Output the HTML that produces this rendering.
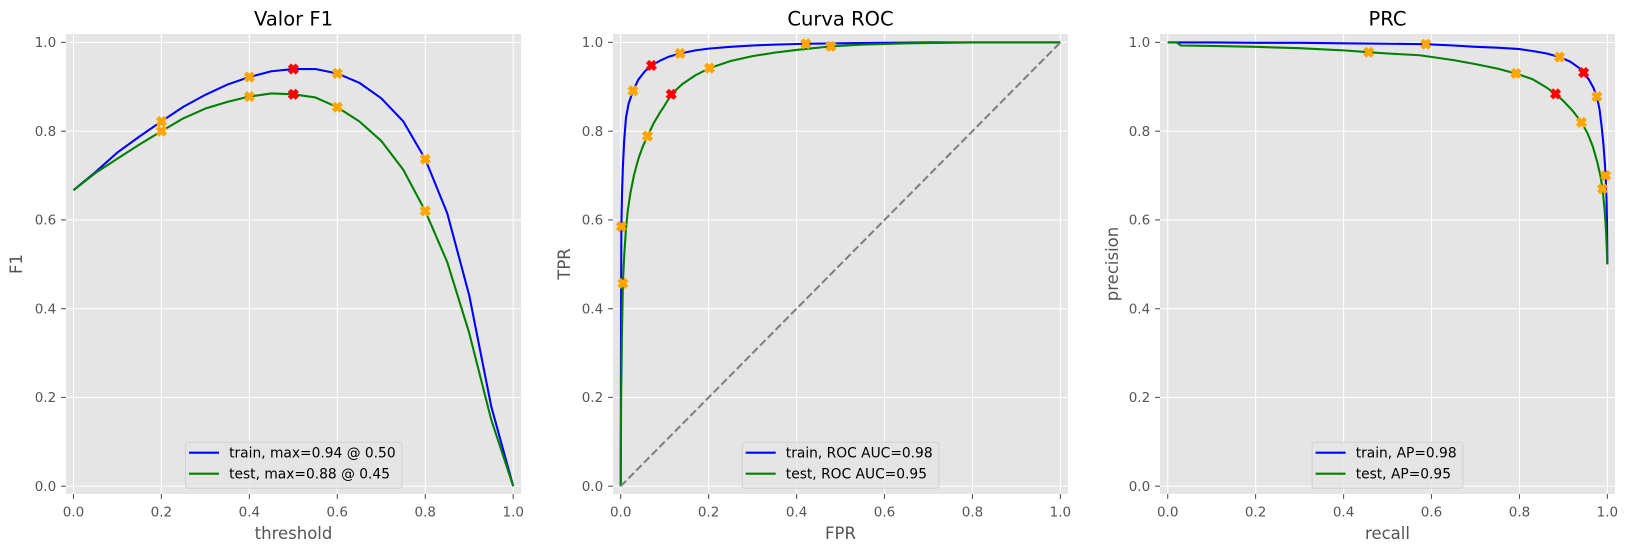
<!DOCTYPE html>
<html><head><meta charset="utf-8"><style>
html,body{margin:0;padding:0;background:#fff;}
svg{display:block;font-family:"DejaVu Sans","Liberation Sans",sans-serif;}
.tk{font-size:13.5px;fill:#555555;}
.lb{font-size:16.5px;fill:#555555;}
.tt{font-size:19.5px;fill:#000;}
.lg{font-size:13.8px;fill:#000;}
.g{stroke:#fff;stroke-width:1.1;}
.tm{stroke:#555555;stroke-width:1.1;}
.ln{fill:none;stroke-width:2.08;vector-effect:non-scaling-stroke;stroke-linejoin:round;}
</style></head><body>
<svg width="1627" height="552" viewBox="0 0 1627 552" xmlns="http://www.w3.org/2000/svg">
<defs>
<polygon id="mx" points="-2.3,-4.6 0,-2.3 2.3,-4.6 4.6,-2.3 2.3,0 4.6,2.3 2.3,4.6 0,2.3 -2.3,4.6 -4.6,2.3 -2.3,0 -4.6,-2.3" stroke-width="1.39"/>
<clipPath id="c1"><rect x="66" y="34" width="455" height="460"/></clipPath>
<clipPath id="c2"><rect x="613" y="34" width="455" height="460"/></clipPath>
<clipPath id="c3"><rect x="1160" y="34" width="455" height="460"/></clipPath>
</defs>
<rect width="1627" height="552" fill="#fff"/>

<!-- ========== AXES 1 ========== -->
<rect x="66" y="34" width="455" height="460" fill="#E5E5E5"/>
<g class="g">
<line x1="73.5" y1="34" x2="73.5" y2="494"/><line x1="161.4" y1="34" x2="161.4" y2="494"/><line x1="249.4" y1="34" x2="249.4" y2="494"/><line x1="337.3" y1="34" x2="337.3" y2="494"/><line x1="425.3" y1="34" x2="425.3" y2="494"/><line x1="513.2" y1="34" x2="513.2" y2="494"/>
<line x1="66" y1="486.2" x2="521" y2="486.2"/><line x1="66" y1="397.4" x2="521" y2="397.4"/><line x1="66" y1="308.7" x2="521" y2="308.7"/><line x1="66" y1="219.9" x2="521" y2="219.9"/><line x1="66" y1="131.2" x2="521" y2="131.2"/><line x1="66" y1="42.4" x2="521" y2="42.4"/>
</g>
<g class="tm">
<line x1="73.5" y1="494" x2="73.5" y2="498.9"/><line x1="161.4" y1="494" x2="161.4" y2="498.9"/><line x1="249.4" y1="494" x2="249.4" y2="498.9"/><line x1="337.3" y1="494" x2="337.3" y2="498.9"/><line x1="425.3" y1="494" x2="425.3" y2="498.9"/><line x1="513.2" y1="494" x2="513.2" y2="498.9"/>
<line x1="61.1" y1="486.2" x2="66" y2="486.2"/><line x1="61.1" y1="397.4" x2="66" y2="397.4"/><line x1="61.1" y1="308.7" x2="66" y2="308.7"/><line x1="61.1" y1="219.9" x2="66" y2="219.9"/><line x1="61.1" y1="131.2" x2="66" y2="131.2"/><line x1="61.1" y1="42.4" x2="66" y2="42.4"/>
</g>
<g class="tk" text-anchor="middle">
<text x="73.5" y="516.5">0.0</text><text x="161.4" y="516.5">0.2</text><text x="249.4" y="516.5">0.4</text><text x="337.3" y="516.5">0.6</text><text x="425.3" y="516.5">0.8</text><text x="513.2" y="516.5">1.0</text>
</g>
<g class="tk" text-anchor="end">
<text x="56.2" y="491">0.0</text><text x="56.2" y="402.2">0.2</text><text x="56.2" y="313.5">0.4</text><text x="56.2" y="224.7">0.6</text><text x="56.2" y="136">0.8</text><text x="56.2" y="47.2">1.0</text>
</g>
<text class="tt" x="293.5" y="25.5" text-anchor="middle">Valor F1</text>
<text class="lb" x="293.5" y="539" text-anchor="middle">threshold</text>
<text class="lb" transform="translate(22,264) rotate(-90)" text-anchor="middle">F1</text>
<g clip-path="url(#c1)">
<g transform="translate(73.5 486.2) scale(439.7 -443.8)">
<polyline class="ln" stroke="#0000FF" points="0,0.667 0.05,0.708 0.1,0.752 0.15,0.788 0.2,0.822 0.25,0.855 0.3,0.882 0.35,0.905 0.4,0.922 0.45,0.935 0.5,0.94 0.55,0.94 0.6,0.93 0.65,0.909 0.7,0.874 0.75,0.822 0.8,0.737 0.85,0.615 0.9,0.43 0.95,0.18 1,0"/>
<g fill="#FFA500" stroke="#FFA500">
<use href="#mx" transform="translate(0.2 0.822) scale(0.0022743 -0.0022533)"/>
<use href="#mx" transform="translate(0.4 0.922) scale(0.0022743 -0.0022533)"/>
<use href="#mx" transform="translate(0.6 0.93) scale(0.0022743 -0.0022533)"/>
<use href="#mx" transform="translate(0.8 0.737) scale(0.0022743 -0.0022533)"/>
</g>
<g fill="#FF0000" stroke="#FF0000"><use href="#mx" transform="translate(0.5 0.94) scale(0.0022743 -0.0022533)"/></g>
<polyline class="ln" stroke="#008000" points="0,0.667 0.05,0.706 0.1,0.738 0.15,0.77 0.2,0.80 0.25,0.829 0.3,0.851 0.35,0.866 0.4,0.878 0.45,0.885 0.5,0.883 0.55,0.876 0.6,0.854 0.65,0.822 0.7,0.778 0.75,0.713 0.8,0.62 0.85,0.505 0.9,0.345 0.95,0.15 1,0"/>
<g fill="#FFA500" stroke="#FFA500">
<use href="#mx" transform="translate(0.2 0.80) scale(0.0022743 -0.0022533)"/>
<use href="#mx" transform="translate(0.4 0.878) scale(0.0022743 -0.0022533)"/>
<use href="#mx" transform="translate(0.6 0.854) scale(0.0022743 -0.0022533)"/>
<use href="#mx" transform="translate(0.8 0.62) scale(0.0022743 -0.0022533)"/>
</g>
<g fill="#FF0000" stroke="#FF0000"><use href="#mx" transform="translate(0.5 0.883) scale(0.0022743 -0.0022533)"/></g>
</g>
</g>
<g>
<rect x="185.5" y="442.3" width="216.6" height="46" rx="2.8" fill="#E5E5E5" fill-opacity="0.8" stroke="#CCCCCC" stroke-opacity="0.8" stroke-width="1"/>
<line x1="189" y1="452.7" x2="219" y2="452.7" stroke="#0000FF" stroke-width="2.08"/>
<line x1="189" y1="473.7" x2="219" y2="473.7" stroke="#008000" stroke-width="2.08"/>
<text class="lg" x="229.1" y="457.6">train, max=0.94 @ 0.50</text>
<text class="lg" x="229.1" y="478.6">test, max=0.88 @ 0.45</text>
</g>

<!-- ========== AXES 2 ========== -->
<rect x="613" y="34" width="455" height="460" fill="#E5E5E5"/>
<g class="g">
<line x1="620.7" y1="34" x2="620.7" y2="494"/><line x1="708.6" y1="34" x2="708.6" y2="494"/><line x1="796.6" y1="34" x2="796.6" y2="494"/><line x1="884.5" y1="34" x2="884.5" y2="494"/><line x1="972.5" y1="34" x2="972.5" y2="494"/><line x1="1060.4" y1="34" x2="1060.4" y2="494"/>
<line x1="613" y1="486.2" x2="1068" y2="486.2"/><line x1="613" y1="397.4" x2="1068" y2="397.4"/><line x1="613" y1="308.7" x2="1068" y2="308.7"/><line x1="613" y1="219.9" x2="1068" y2="219.9"/><line x1="613" y1="131.2" x2="1068" y2="131.2"/><line x1="613" y1="42.4" x2="1068" y2="42.4"/>
</g>
<g class="tm">
<line x1="620.7" y1="494" x2="620.7" y2="498.9"/><line x1="708.6" y1="494" x2="708.6" y2="498.9"/><line x1="796.6" y1="494" x2="796.6" y2="498.9"/><line x1="884.5" y1="494" x2="884.5" y2="498.9"/><line x1="972.5" y1="494" x2="972.5" y2="498.9"/><line x1="1060.4" y1="494" x2="1060.4" y2="498.9"/>
<line x1="608.1" y1="486.2" x2="613" y2="486.2"/><line x1="608.1" y1="397.4" x2="613" y2="397.4"/><line x1="608.1" y1="308.7" x2="613" y2="308.7"/><line x1="608.1" y1="219.9" x2="613" y2="219.9"/><line x1="608.1" y1="131.2" x2="613" y2="131.2"/><line x1="608.1" y1="42.4" x2="613" y2="42.4"/>
</g>
<g class="tk" text-anchor="middle">
<text x="620.7" y="516.5">0.0</text><text x="708.6" y="516.5">0.2</text><text x="796.6" y="516.5">0.4</text><text x="884.5" y="516.5">0.6</text><text x="972.5" y="516.5">0.8</text><text x="1060.4" y="516.5">1.0</text>
</g>
<g class="tk" text-anchor="end">
<text x="603.2" y="491">0.0</text><text x="603.2" y="402.2">0.2</text><text x="603.2" y="313.5">0.4</text><text x="603.2" y="224.7">0.6</text><text x="603.2" y="136">0.8</text><text x="603.2" y="47.2">1.0</text>
</g>
<text class="tt" x="840.5" y="25.5" text-anchor="middle">Curva ROC</text>
<text class="lb" x="840.5" y="539" text-anchor="middle">FPR</text>
<text class="lb" transform="translate(570,264) rotate(-90)" text-anchor="middle">TPR</text>
<g clip-path="url(#c2)">
<g transform="translate(620.7 486.2) scale(439.7 -443.8)">
<polyline class="ln" stroke="#0000FF" points="0,0 0.0005,0.25 0.001,0.45 0.0015,0.585 0.003,0.66 0.005,0.72 0.008,0.78 0.012,0.83 0.018,0.862 0.028,0.891 0.04,0.916 0.055,0.935 0.07,0.948 0.09,0.959 0.11,0.968 0.135,0.975 0.17,0.982 0.2,0.986 0.25,0.99 0.3,0.993 0.35,0.995 0.421,0.997 0.5,0.998 0.6,0.999 0.7,1 1,1"/>
<polyline class="ln" stroke="#008000" points="0,0 0.001,0.2 0.003,0.35 0.005,0.457 0.008,0.52 0.012,0.58 0.016,0.62 0.022,0.66 0.03,0.70 0.04,0.737 0.05,0.765 0.061,0.789 0.075,0.818 0.09,0.843 0.1,0.858 0.115,0.883 0.14,0.906 0.17,0.926 0.202,0.942 0.25,0.958 0.3,0.969 0.35,0.977 0.4,0.983 0.478,0.991 0.55,0.995 0.65,0.998 0.8,1 1,1"/>
</g>
<line x1="620.7" y1="486.2" x2="1060.4" y2="42.4" stroke="#808080" stroke-width="2.08" stroke-dasharray="7.7 3.3"/>
<g transform="translate(620.7 486.2) scale(439.7 -443.8)">
<g fill="#FFA500" stroke="#FFA500">
<use href="#mx" transform="translate(0.0015 0.585) scale(0.0022743 -0.0022533)"/>
<use href="#mx" transform="translate(0.028 0.891) scale(0.0022743 -0.0022533)"/>
<use href="#mx" transform="translate(0.135 0.975) scale(0.0022743 -0.0022533)"/>
<use href="#mx" transform="translate(0.421 0.997) scale(0.0022743 -0.0022533)"/>
<use href="#mx" transform="translate(0.005 0.457) scale(0.0022743 -0.0022533)"/>
<use href="#mx" transform="translate(0.061 0.789) scale(0.0022743 -0.0022533)"/>
<use href="#mx" transform="translate(0.202 0.942) scale(0.0022743 -0.0022533)"/>
<use href="#mx" transform="translate(0.478 0.991) scale(0.0022743 -0.0022533)"/>
</g>
<g fill="#FF0000" stroke="#FF0000">
<use href="#mx" transform="translate(0.07 0.948) scale(0.0022743 -0.0022533)"/>
<use href="#mx" transform="translate(0.115 0.883) scale(0.0022743 -0.0022533)"/>
</g>
</g>
</g>
<g>
<rect x="742.2" y="442.3" width="196.7" height="46" rx="2.8" fill="#E5E5E5" fill-opacity="0.8" stroke="#CCCCCC" stroke-opacity="0.8" stroke-width="1"/>
<line x1="745.7" y1="452.7" x2="775.7" y2="452.7" stroke="#0000FF" stroke-width="2.08"/>
<line x1="745.7" y1="473.7" x2="775.7" y2="473.7" stroke="#008000" stroke-width="2.08"/>
<text class="lg" x="785.8" y="457.6">train, ROC AUC=0.98</text>
<text class="lg" x="785.8" y="478.6">test, ROC AUC=0.95</text>
</g>

<!-- ========== AXES 3 ========== -->
<rect x="1160" y="34" width="455" height="460" fill="#E5E5E5"/>
<g class="g">
<line x1="1167.7" y1="34" x2="1167.7" y2="494"/><line x1="1255.6" y1="34" x2="1255.6" y2="494"/><line x1="1343.6" y1="34" x2="1343.6" y2="494"/><line x1="1431.5" y1="34" x2="1431.5" y2="494"/><line x1="1519.5" y1="34" x2="1519.5" y2="494"/><line x1="1607.4" y1="34" x2="1607.4" y2="494"/>
<line x1="1160" y1="486.2" x2="1615" y2="486.2"/><line x1="1160" y1="397.4" x2="1615" y2="397.4"/><line x1="1160" y1="308.7" x2="1615" y2="308.7"/><line x1="1160" y1="219.9" x2="1615" y2="219.9"/><line x1="1160" y1="131.2" x2="1615" y2="131.2"/><line x1="1160" y1="42.4" x2="1615" y2="42.4"/>
</g>
<g class="tm">
<line x1="1167.7" y1="494" x2="1167.7" y2="498.9"/><line x1="1255.6" y1="494" x2="1255.6" y2="498.9"/><line x1="1343.6" y1="494" x2="1343.6" y2="498.9"/><line x1="1431.5" y1="494" x2="1431.5" y2="498.9"/><line x1="1519.5" y1="494" x2="1519.5" y2="498.9"/><line x1="1607.4" y1="494" x2="1607.4" y2="498.9"/>
<line x1="1155.1" y1="486.2" x2="1160" y2="486.2"/><line x1="1155.1" y1="397.4" x2="1160" y2="397.4"/><line x1="1155.1" y1="308.7" x2="1160" y2="308.7"/><line x1="1155.1" y1="219.9" x2="1160" y2="219.9"/><line x1="1155.1" y1="131.2" x2="1160" y2="131.2"/><line x1="1155.1" y1="42.4" x2="1160" y2="42.4"/>
</g>
<g class="tk" text-anchor="middle">
<text x="1167.7" y="516.5">0.0</text><text x="1255.6" y="516.5">0.2</text><text x="1343.6" y="516.5">0.4</text><text x="1431.5" y="516.5">0.6</text><text x="1519.5" y="516.5">0.8</text><text x="1607.4" y="516.5">1.0</text>
</g>
<g class="tk" text-anchor="end">
<text x="1150.2" y="491">0.0</text><text x="1150.2" y="402.2">0.2</text><text x="1150.2" y="313.5">0.4</text><text x="1150.2" y="224.7">0.6</text><text x="1150.2" y="136">0.8</text><text x="1150.2" y="47.2">1.0</text>
</g>
<text class="tt" x="1387.5" y="25.5" text-anchor="middle">PRC</text>
<text class="lb" x="1387.5" y="539" text-anchor="middle">recall</text>
<text class="lb" transform="translate(1118,264) rotate(-90)" text-anchor="middle">precision</text>
<g clip-path="url(#c3)">
<g transform="translate(1167.7 486.2) scale(439.7 -443.8)">
<polyline class="ln" stroke="#0000FF" points="0,1.0 0.1,1.0 0.2,0.999 0.3,0.999 0.4,0.998 0.5,0.997 0.587,0.996 0.65,0.993 0.7,0.99 0.75,0.988 0.8,0.985 0.84,0.979 0.862,0.975 0.891,0.967 0.915,0.957 0.935,0.943 0.946,0.932 0.958,0.916 0.968,0.898 0.976,0.878 0.982,0.85 0.987,0.81 0.991,0.77 0.994,0.73 0.996,0.70 0.998,0.65 0.999,0.6 1.0,0.5"/>
<polyline class="ln" stroke="#008000" points="0,1.0 0.02,1.0 0.03,0.993 0.1,0.992 0.2,0.99 0.3,0.987 0.4,0.982 0.457,0.978 0.5,0.975 0.573,0.971 0.65,0.96 0.7,0.951 0.75,0.941 0.792,0.93 0.83,0.917 0.862,0.898 0.882,0.884 0.9,0.868 0.92,0.847 0.941,0.82 0.955,0.795 0.967,0.765 0.977,0.73 0.984,0.70 0.989,0.67 0.993,0.63 0.996,0.59 0.998,0.55 1.0,0.5"/>
<g fill="#FFA500" stroke="#FFA500">
<use href="#mx" transform="translate(0.587 0.996) scale(0.0022743 -0.0022533)"/>
<use href="#mx" transform="translate(0.891 0.967) scale(0.0022743 -0.0022533)"/>
<use href="#mx" transform="translate(0.976 0.878) scale(0.0022743 -0.0022533)"/>
<use href="#mx" transform="translate(0.996 0.70) scale(0.0022743 -0.0022533)"/>
<use href="#mx" transform="translate(0.457 0.978) scale(0.0022743 -0.0022533)"/>
<use href="#mx" transform="translate(0.792 0.93) scale(0.0022743 -0.0022533)"/>
<use href="#mx" transform="translate(0.941 0.82) scale(0.0022743 -0.0022533)"/>
<use href="#mx" transform="translate(0.989 0.67) scale(0.0022743 -0.0022533)"/>
</g>
<g fill="#FF0000" stroke="#FF0000">
<use href="#mx" transform="translate(0.946 0.932) scale(0.0022743 -0.0022533)"/>
<use href="#mx" transform="translate(0.882 0.884) scale(0.0022743 -0.0022533)"/>
</g>
</g>
</g>
<g>
<rect x="1312.1" y="442.3" width="150.8" height="46" rx="2.8" fill="#E5E5E5" fill-opacity="0.8" stroke="#CCCCCC" stroke-opacity="0.8" stroke-width="1"/>
<line x1="1315.6" y1="452.7" x2="1345.6" y2="452.7" stroke="#0000FF" stroke-width="2.08"/>
<line x1="1315.6" y1="473.7" x2="1345.6" y2="473.7" stroke="#008000" stroke-width="2.08"/>
<text class="lg" x="1355.7" y="457.6">train, AP=0.98</text>
<text class="lg" x="1355.7" y="478.6">test, AP=0.95</text>
</g>
</svg>
</body></html>
